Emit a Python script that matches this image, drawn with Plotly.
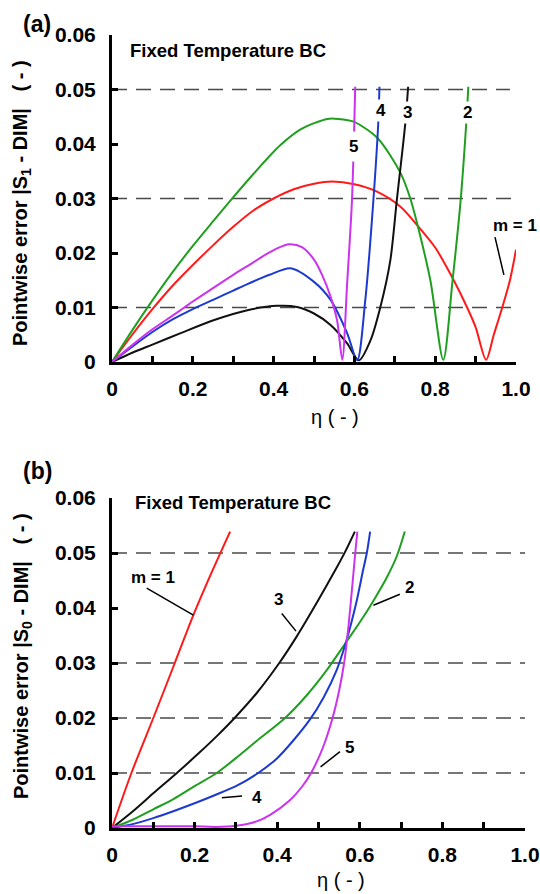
import plotly.graph_objects as go

# ---------------- (a) |S1 - DIM| pointwise error ----------------
eta_a1 = [0, 0.05, 0.1, 0.15, 0.2, 0.25, 0.3, 0.35, 0.4, 0.45, 0.5, 0.545, 0.6, 0.657, 0.714, 0.751, 0.8, 0.843, 0.879, 0.9, 0.926, 0.945, 0.966, 0.985, 1.0]
err_a1 = [0, 0.0050, 0.0097, 0.0140, 0.0178, 0.0214, 0.0248, 0.0278, 0.0300, 0.0317, 0.0327, 0.0331, 0.0326, 0.0312, 0.0285, 0.0255, 0.0210, 0.0154, 0.0100, 0.0064, 0.0004, 0.0050, 0.0100, 0.0150, 0.0206]

eta_a2 = [0, 0.05, 0.1, 0.15, 0.2, 0.25, 0.294, 0.35, 0.417, 0.47, 0.533, 0.56, 0.598, 0.657, 0.714, 0.738, 0.755, 0.788, 0.82, 0.843, 0.863, 0.877, 0.882]
err_a2 = [0, 0.0058, 0.0113, 0.0165, 0.0213, 0.0258, 0.0297, 0.0345, 0.0398, 0.0428, 0.0446, 0.0446, 0.0441, 0.0411, 0.0347, 0.0301, 0.0255, 0.0150, 0.0004, 0.0150, 0.0297, 0.0440, 0.0505]

eta_a3 = [0, 0.05, 0.1, 0.17, 0.253, 0.335, 0.409, 0.458, 0.5, 0.541, 0.582, 0.611, 0.64, 0.664, 0.689, 0.705, 0.726, 0.733]
err_a3 = [0, 0.0017, 0.0032, 0.0053, 0.0077, 0.0095, 0.0103, 0.0101, 0.0089, 0.0068, 0.0034, 0.0003, 0.0040, 0.0100, 0.0187, 0.0297, 0.0438, 0.0505]

eta_a4 = [0, 0.05, 0.1, 0.15, 0.2, 0.253, 0.3, 0.335, 0.39, 0.442, 0.5, 0.541, 0.582, 0.607, 0.627, 0.647, 0.659, 0.662]
err_a4 = [0, 0.0028, 0.0055, 0.0078, 0.0097, 0.0115, 0.0131, 0.0143, 0.0160, 0.0172, 0.0147, 0.0114, 0.0053, 0.0003, 0.0114, 0.0297, 0.0438, 0.0505]

eta_a5 = [0, 0.05, 0.1, 0.15, 0.179, 0.2, 0.253, 0.3, 0.335, 0.38, 0.41, 0.438, 0.47, 0.5, 0.52, 0.541, 0.557, 0.570, 0.582, 0.594, 0.602]
err_a5 = [0, 0.0031, 0.0060, 0.0085, 0.0100, 0.0111, 0.0137, 0.0160, 0.0176, 0.0197, 0.0209, 0.0216, 0.0211, 0.0188, 0.0160, 0.0120, 0.0077, 0.0004, 0.0144, 0.0297, 0.0505]

# ---------------- (b) |S0 - DIM| pointwise error ----------------
eta_b1 = [0, 0.047, 0.1, 0.152, 0.197, 0.245, 0.286]
err_b1 = [0, 0.0100, 0.0200, 0.0300, 0.0387, 0.0471, 0.0539]

eta_b2 = [0, 0.05, 0.1, 0.15, 0.2, 0.2535, 0.3, 0.35, 0.419, 0.47, 0.52, 0.568, 0.6, 0.632, 0.665, 0.69, 0.709]
err_b2 = [0, 0.0015, 0.0034, 0.0053, 0.0076, 0.0100, 0.0127, 0.0158, 0.0200, 0.0240, 0.0287, 0.0339, 0.0374, 0.0412, 0.0455, 0.0495, 0.0539]

eta_b3 = [0, 0.05, 0.1, 0.157, 0.213, 0.255, 0.298, 0.35, 0.405, 0.447, 0.5, 0.54, 0.565, 0.588]
err_b3 = [0, 0.0030, 0.0063, 0.0100, 0.0138, 0.0168, 0.0201, 0.0245, 0.0300, 0.0348, 0.0415, 0.0468, 0.0503, 0.0539]

eta_b4 = [0, 0.05, 0.1, 0.15, 0.2, 0.25, 0.3, 0.354, 0.4, 0.44, 0.479, 0.512, 0.544, 0.567, 0.591, 0.608, 0.617, 0.625]
err_b4 = [0, 0.0007, 0.0018, 0.0031, 0.0045, 0.0060, 0.0076, 0.0100, 0.0127, 0.0160, 0.0197, 0.0237, 0.0287, 0.0339, 0.0408, 0.0469, 0.0500, 0.0539]

eta_b5 = [0, 0.1, 0.2, 0.25, 0.3, 0.35, 0.383, 0.43, 0.46, 0.482, 0.51, 0.534, 0.55, 0.562, 0.573, 0.583, 0.589, 0.594]
err_b5 = [0.0003, 0.0003, 0.0003, 0.0002, 0.0004, 0.0012, 0.0024, 0.0050, 0.0075, 0.0100, 0.0145, 0.0200, 0.0250, 0.0300, 0.0370, 0.0450, 0.0500, 0.0539]

y_ticks = [0, 0.01, 0.02, 0.03, 0.04, 0.05, 0.06]
y_ticktext = ["0", "0.01", "0.02", "0.03", "0.04", "0.05", "0.06"]
x_ticks = [0, 0.2, 0.4, 0.6, 0.8, 1.0]
x_ticktext = ["0", "0.2", "0.4", "0.6", "0.8", "1.0"]
dashed_a = [0.01, 0.03, 0.05]
dashed_b = [0.01, 0.02, 0.03, 0.05]

RED, GREEN, BLACK, BLUE, MAGENTA = "#ff1a1a", "#1f9f1f", "#111111", "#1c3ad0", "#cc33ee"
FONT = "Liberation Sans"

fig = go.Figure()

def add_curve(x, y, color, xa, ya):
    fig.add_trace(go.Scatter(x=x, y=y, mode="lines", xaxis=xa, yaxis=ya,
                             line=dict(color=color, width=2, shape="spline", smoothing=0.8),
                             showlegend=False, hoverinfo="skip"))

for x, y, c in [(eta_a1, err_a1, RED), (eta_a2, err_a2, GREEN), (eta_a3, err_a3, BLACK),
                (eta_a4, err_a4, BLUE), (eta_a5, err_a5, MAGENTA)]:
    add_curve(x, y, c, "x", "y")
for x, y, c in [(eta_b1, err_b1, RED), (eta_b2, err_b2, GREEN), (eta_b3, err_b3, BLACK),
                (eta_b4, err_b4, BLUE), (eta_b5, err_b5, MAGENTA)]:
    add_curve(x, y, c, "x2", "y2")

tickfont = dict(family=FONT, size=21, color="black", weight="bold")

def xaxis_cfg(domain, anchor):
    return dict(domain=domain, anchor=anchor, range=[0, 1.0], showline=True, linewidth=3,
                linecolor="black", ticks="inside", ticklen=6, tickwidth=2.5, tickcolor="black",
                tickvals=x_ticks, ticktext=x_ticktext, tickfont=tickfont, ticklabelstandoff=6,
                minor=dict(dtick=0.1, tick0=0, ticks="inside", ticklen=6, tickwidth=2.5,
                           tickcolor="black", showgrid=False),
                showgrid=False, zeroline=False, fixedrange=True, automargin=False)

def yaxis_cfg(domain, anchor):
    return dict(domain=domain, anchor=anchor, range=[0, 0.06], showline=True, linewidth=3,
                linecolor="black", ticks="inside", ticklen=6, tickwidth=2.5, tickcolor="black",
                tickvals=y_ticks, ticktext=y_ticktext, tickfont=tickfont, ticklabelstandoff=9,
                showgrid=False, zeroline=False, fixedrange=True, automargin=False)

shapes = []
for v in dashed_a:
    shapes.append(dict(type="line", xref="x", yref="y", x0=0, x1=0.985 if v == 0.05 else 1.0,
                       y0=v, y1=v, layer="below",
                       line=dict(color="#4a4a4a", width=1.5, dash="15px,9px")))
for v in dashed_b:
    shapes.append(dict(type="line", xref="x2", yref="y2", x0=0, x1=1.0, y0=v, y1=v,
                       layer="below", line=dict(color="#4a4a4a", width=1.5, dash="15px,9px")))

# leader lines from curve labels
leaders = [
    ("x", "y", 0.948, 0.0229, 0.970, 0.0160),
    ("x2", "y2", 0.084, 0.0436, 0.197, 0.0387),
    ("x2", "y2", 0.411, 0.0390, 0.4455, 0.0358),
    ("x2", "y2", 0.697, 0.0425, 0.633, 0.0405),
    ("x2", "y2", 0.266, 0.0055, 0.315, 0.0058),
    ("x2", "y2", 0.552, 0.0139, 0.505, 0.0111),
]
for xr, yr, x0, y0, x1, y1 in leaders:
    shapes.append(dict(type="line", xref=xr, yref=yr, x0=x0, y0=y0, x1=x1, y1=y1,
                       line=dict(color="black", width=1.5)))

lab = dict(family=FONT, size=17, color="black", weight="bold")

def note(x, y, text, xref, yref, font, **kw):
    d = dict(x=x, y=y, xref=xref, yref=yref, text=text, showarrow=False, font=font,
             xanchor="center", yanchor="middle")
    d.update(kw)
    return d

caption_font = dict(family=FONT, size=18.5, color="black", weight="bold")
annotations = [
    # curve labels, panel (a)
    note(0.597, 0.0395, "5", "x", "y", lab, bgcolor="white", borderpad=5),
    note(0.665, 0.0462, "4", "x", "y", lab, bgcolor="white", borderpad=1),
    note(0.732, 0.0457, "3", "x", "y", lab, bgcolor="white", borderpad=1),
    note(0.880, 0.0457, "2", "x", "y", lab, bgcolor="white", borderpad=1),
    note(0.997, 0.0251, "m = 1", "x", "y", lab),
    # curve labels, panel (b)
    note(0.0993, 0.0456, "m = 1", "x2", "y2", lab),
    note(0.403, 0.0416, "3", "x2", "y2", lab),
    note(0.720, 0.0438, "2", "x2", "y2", lab),
    note(0.350, 0.0056, "4", "x2", "y2", lab),
    note(0.575, 0.0147, "5", "x2", "y2", lab),
    # boundary-condition captions
    note(0.04, 0.0572, "Fixed Temperature BC", "x", "y", caption_font, xanchor="left"),
    note(0.051, 0.0591, "Fixed Temperature BC", "x2", "y2", caption_font, xanchor="left"),
]

# page-level texts placed in paper coordinates (plot area: x 112..525 px, y 35..828 px)
def px(xp):
    return (xp - 112) / 413.0

def py(yp):
    return (828 - yp) / 793.0

axis_title_font = dict(family=FONT, size=20, color="black", weight="bold")
panel_font = dict(family=FONT, size=23, color="black", weight="bold")
eta_font = dict(family=FONT, size=20, color="black")
annotations += [
    note(px(37), py(24), "(a)", "paper", "paper", panel_font),
    note(px(37), py(471), "(b)", "paper", "paper", panel_font),
    note(px(22), py(203), "Pointwise error |S<sub>1</sub> - DIM|   ( - )", "paper", "paper",
         axis_title_font, textangle=-90),
    note(px(22), py(656), "Pointwise error |S<sub>0</sub> - DIM|   ( - )", "paper", "paper",
         axis_title_font, textangle=-90),
    note(px(335), py(417), "η ( - )", "paper", "paper", eta_font),
    note(px(341), py(880), "η ( - )", "paper", "paper", eta_font),
]

fig.update_layout(
    width=540, height=894,
    margin=dict(l=112, r=15, t=35, b=66, autoexpand=False),
    paper_bgcolor="white", plot_bgcolor="white",
    xaxis=xaxis_cfg([0, 404 / 413.0], "y"),
    yaxis=yaxis_cfg([py(362), 1.0], "x"),
    xaxis2=xaxis_cfg([0, 1.0], "y2"),
    yaxis2=yaxis_cfg([0, py(498)], "x2"),
    shapes=shapes,
    annotations=annotations,
    showlegend=False,
)

fig.write_html("out.html", config={"displayModeBar": False})
